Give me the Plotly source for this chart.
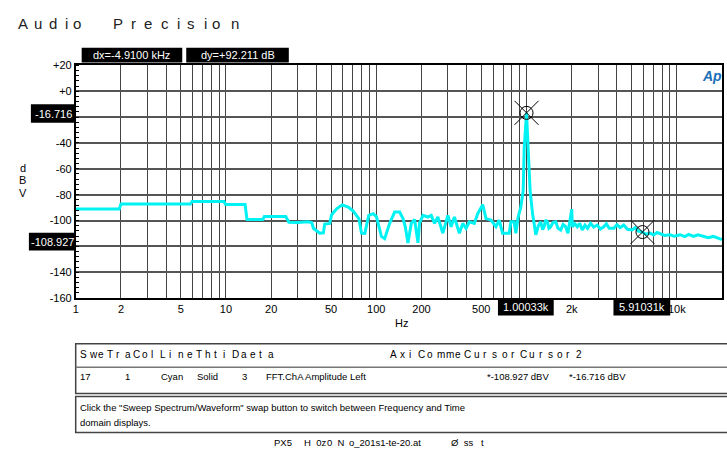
import plotly.graph_objects as go
import math

# ---------------- data ----------------
freq_hz = [1.0, 1.95, 2.0, 5.8, 5.95, 9.7, 9.95, 13.4, 13.8, 17.6, 18.0, 25.0, 26.2, 30, 35, 37.2,
           38.2, 42, 44.5, 45.4, 49, 50.5, 54.5, 59.4, 65.1, 70.3, 76.6, 79.8, 83.9, 89.2, 95.4,
           100.3, 108.2, 113.8, 122.8, 132.6, 143.1, 150.7, 156.1, 162.6, 171, 180, 189.5, 194.2,
           204.5, 220.7, 232.3, 244.2, 257.2, 277.5, 299.6, 315, 331, 357.5, 376.6, 396, 416.6,
           449.5, 473.5, 511, 537.5, 580, 626, 658, 693, 767, 787, 827, 849, 880, 916, 950, 965,
           1000.33, 1025, 1057, 1097, 1153, 1200, 1244, 1280, 1309, 1340, 1377, 1410, 1449, 1500,
           1564, 1620, 1688, 1750, 1821, 1887, 1940, 2000, 2018, 2100, 2178, 2260, 2350, 2450,
           2550, 2668, 2800, 2953, 3100, 3266, 3400, 3550, 3807, 4000, 4200, 4436, 4700, 5040,
           5300, 5550, 5910.31, 6200, 6663, 7000, 7400, 7764, 8300, 9041, 9600, 10540, 11300,
           12000, 12910, 13800, 15030, 16200, 17500, 18800, 20000]
level_dbv = [-91, -91, -87.2, -87.2, -85.3, -85.3, -87.6, -87.6, -99.2, -99.2, -96.8, -96.8, -101.3,
             -101.5, -101.0, -101.5, -106, -109.8, -109.5, -102.7, -102.3, -95.5, -91, -87.9, -89.6,
             -92.7, -98.5, -109.8, -110, -96, -94.7, -97, -112.3, -114, -102.2, -93.5, -93.5, -98.5,
             -104.8, -117.3, -102.2, -99.2, -117.3, -102, -96, -97.3, -96, -102.2, -97.3, -109.8,
             -96, -104.8, -97.3, -109.8, -102.2, -106, -101, -102.2, -94.7, -87.7, -98.5, -99.7,
             -104.8, -99.7, -109.8, -109.8, -101, -101, -109.8, -97.3, -89.7, -77.1, -44.5,
             -16.716, -44.5, -77, -94.7, -111, -104, -101, -107, -104.8, -99.7, -101, -106, -104.8,
             -101.5, -101, -106, -107.3, -103, -104.8, -109.8, -102, -91.2, -104.8, -102.5, -104.8,
             -102.2, -107.3, -103.5, -106, -102.2, -105, -103.5, -106.5, -104.8, -102.5, -106,
             -106, -103.2, -105.5, -103.5, -106.8, -107.3, -105.5, -108.2, -108.927, -110.5,
             -109.8, -111.2, -109.3, -110.3, -111.5, -111, -112.2, -111, -112.5, -110.8, -112.3,
             -111, -112.3, -113.2, -112.3, -113.5, -114.8]

cursor_freq = [1000.33, 5910.31]
cursor_level = [-16.716, -108.927]
cursor_freq_text = ["1.00033k", "5.91031k"]
delta_text = ["dx=-4.9100 kHz", "dy=+92.211 dB"]

x_tick_vals = [1, 2, 5, 10, 20, 50, 100, 200, 500, 1000, 2000, 5000, 10000, 20000]
x_tick_text = ["1", "2", "5", "10", "20", "50", "100", "200", "500", "", "2k", "", "10k", "20k"]
y_tick_vals = [20, 0, -20, -40, -60, -80, -100, -120, -140, -160]
y_tick_text = ["+20", "+0", "", "-40", "-60", "-80", "-100", "-120", "-140", "-160"]

minor_x = [m * 10 ** d for d in range(0, 5) for m in range(1, 10) if m * 10 ** d <= 20000]

header_group1 = "SweTraColLineThtiDaeta"
header_group2 = "AxiCommeCursorCursor2"
table_row = ["17", "1", "Cyan", "Solid", "3", "FFT.ChA Amplitude", "Left",
             "*-108.927 dBV", "*-16.716 dBV"]
note_lines = ['Click the "Sweep Spectrum/Waveform" swap button to switch between Frequency and Time',
              "domain displays."]
footer_parts = ["PX5", "H  0z", "0  N", "o_201s1-te-20.at", "Ø  ss   t"]
title_letters = list("AudioPrecision")

# ---------------- layout helpers ----------------
W, H = 727, 455
FONT = "Liberation Sans, Arial, sans-serif"


def px(x):
    return x / W


def py(y):
    return 1 - y / H


fig = go.Figure()
fig.add_trace(go.Scatter(x=freq_hz, y=level_dbv, mode="lines",
                         line=dict(color="#00F2F2", width=3), hoverinfo="skip"))
fig.add_trace(go.Scatter(x=cursor_freq, y=cursor_level, mode="markers",
                         marker=dict(symbol="circle-open", size=13, color="black",
                                     line=dict(width=1, color="black"))))
fig.add_trace(go.Scatter(x=cursor_freq, y=cursor_level, mode="markers",
                         marker=dict(symbol="x-thin-open", size=24, color="black",
                                     line=dict(width=1, color="black"))))

grid_col = "#444444"
fig.update_layout(
    width=W, height=H, margin=dict(l=0, r=0, t=0, b=0),
    paper_bgcolor="white", plot_bgcolor="white", showlegend=False,
    font=dict(family=FONT, size=11, color="black"),
    xaxis=dict(type="log", range=[0, math.log10(20000)], domain=[px(73), px(722)],
               tickmode="array", tickvals=x_tick_vals, ticktext=x_tick_text,
               showgrid=True, gridcolor=grid_col, gridwidth=1.3, ticks="",
               showline=True, linecolor="black", linewidth=1.5, mirror=True,
               tickfont=dict(size=11), zeroline=False,
               minor=dict(tickmode="array", tickvals=minor_x, showgrid=True,
                          gridcolor=grid_col, gridwidth=1.3, ticks="")),
    yaxis=dict(range=[-160, 20], domain=[py(300), py(61)],
               tickmode="array", tickvals=y_tick_vals, ticktext=y_tick_text,
               showgrid=True, gridcolor="#555555", gridwidth=1.6, ticks="",
               showline=True, linecolor="black", linewidth=1.5, mirror=True,
               tickfont=dict(size=11), zeroline=False,
               minor=dict(ticks="inside", ticklen=4, dtick=4, tickcolor="black",
                          showgrid=False)),
)

shapes = []
ann = []


def box(x0, y0, x1, y1, text, size=11):
    shapes.append(dict(type="rect", xref="paper", yref="paper", x0=px(x0), x1=px(x1),
                       y0=py(y1), y1=py(y0), fillcolor="black", line=dict(width=0),
                       layer="above"))
    ann.append(dict(xref="paper", yref="paper", x=px((x0 + x1) / 2), y=py((y0 + y1) / 2),
                    text=text, showarrow=False, xanchor="center", yanchor="middle",
                    font=dict(color="white", size=size, family=FONT)))


def label(x, y, text, size=10, anchor="left", color="black", **kw):
    ann.append(dict(xref="paper", yref="paper", x=px(x), y=py(y), text=text,
                    showarrow=False, xanchor=anchor, yanchor="middle",
                    font=dict(size=size, color=color, family=FONT), **kw))


# title letters (wide letter spacing)
title_x = [13, 29, 44, 60, 68, 108, 127, 140, 157, 173, 183, 200, 208, 227]
for ch, xx in zip(title_letters, title_x):
    label(xx, 18, ch, size=15, color="#222")

# cursor readouts
box(79, 43, 180, 58, delta_text[0])
box(184, 43, 287, 58, delta_text[1])
box(28, 101, 73, 120, f"{cursor_level[0]:.3f}")
box(26, 233, 73, 251, f"{cursor_level[1]:.3f}")
box(497, 301, 553, 318, cursor_freq_text[0])
box(613, 301, 670, 318, cursor_freq_text[1])

# axis titles
label(20, 166, "d", size=11, anchor="center")
label(20, 179, "B", size=11, anchor="center")
label(20, 192, "V", size=11, anchor="center")
label(400, 326, "Hz", size=11, anchor="center")

# AP logo
label(712, 72, "<b><i>Ap</i></b>", size=14, anchor="center", color="#1d6fb8")

# table boxes
for (y0, y1) in [(347, 398), (401, 438)]:
    shapes.append(dict(type="rect", xref="paper", yref="paper", x0=px(73), x1=px(740),
                       y0=py(y1), y1=py(y0), line=dict(color="#444", width=1.5),
                       fillcolor="rgba(0,0,0,0)"))
shapes.append(dict(type="line", xref="paper", yref="paper", x0=px(73), x1=px(740),
                   y0=py(371), y1=py(371), line=dict(color="#777", width=1.5)))

for i, ch in enumerate(header_group1):
    label(75 + i * 9.0, 358, ch, size=10)
for i, ch in enumerate(header_group2):
    label(387 + i * 9.3, 358, ch, size=10)
row_x = [75, 120, 157, 193, 238, 262, 346, 484, 566]
for t, xx in zip(table_row, row_x):
    label(xx, 381, t, size=9.5)
label(75, 412, note_lines[0], size=9.5)
label(75, 428, note_lines[1], size=9.5)
footer_x = [270, 300, 323, 345, 448]
for t, xx in zip(footer_parts, footer_x):
    label(xx, 448, t.replace(" ", "\u00a0"), size=9.5)

fig.update_layout(shapes=shapes, annotations=ann)
fig.write_html("out.html", config={"displayModeBar": False},
               post_script="document.body.style.margin='0';document.body.style.padding='0';"
                           "document.body.style.overflow='hidden';")
